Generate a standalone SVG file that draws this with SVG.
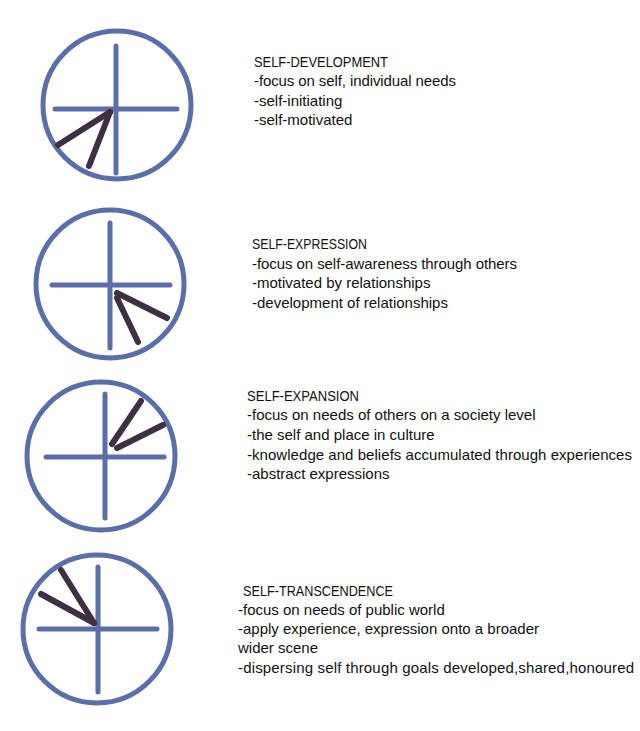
<svg xmlns="http://www.w3.org/2000/svg" width="640" height="731" viewBox="0 0 640 731">
<style>
.ring{fill:none;stroke:#5a6fa9;stroke-width:5}
.axis{stroke:#5a6fa9;stroke-width:5;stroke-linecap:round}
.hand{stroke:#3e3043;stroke-width:6;stroke-linecap:round}
text{font-family:"Liberation Sans",Arial,sans-serif;font-size:15px;fill:#111111}
</style>
<rect width="640" height="731" fill="#ffffff"/>
<g id="node-self-development">
<circle class="ring" cx="117" cy="105" r="74"/>
<line class="axis" x1="116" y1="46" x2="116" y2="173"/>
<line class="axis" x1="55" y1="109" x2="177" y2="109"/>
<line class="hand" x1="110" y1="112" x2="58" y2="145"/>
<line class="hand" x1="110" y1="112" x2="89" y2="166"/>
<text x="254" y="67" textLength="134" lengthAdjust="spacingAndGlyphs">SELF-DEVELOPMENT</text>
<text x="254" y="86" textLength="202" lengthAdjust="spacing">-focus on self, individual needs</text>
<text x="254" y="106">-self-initiating</text>
<text x="254" y="125">-self-motivated</text>
</g>
<g id="node-self-expression">
<circle class="ring" cx="110" cy="284" r="74"/>
<line class="axis" x1="110" y1="223" x2="110" y2="348"/>
<line class="axis" x1="52" y1="285" x2="170" y2="285"/>
<line class="hand" x1="117" y1="293" x2="167" y2="318"/>
<line class="hand" x1="117" y1="298" x2="138" y2="342"/>
<text x="252" y="249" textLength="115" lengthAdjust="spacingAndGlyphs">SELF-EXPRESSION</text>
<text x="252" y="269" textLength="265" lengthAdjust="spacing">-focus on self-awareness through others</text>
<text x="252" y="288">-motivated by relationships</text>
<text x="252" y="308">-development of relationships</text>
</g>
<g id="node-self-expansion">
<circle class="ring" cx="101" cy="456" r="74"/>
<line class="axis" x1="105" y1="394" x2="105" y2="518"/>
<line class="axis" x1="46" y1="457" x2="164" y2="457"/>
<line class="hand" x1="112" y1="444" x2="141" y2="401"/>
<line class="hand" x1="117" y1="448" x2="163" y2="425"/>
<text x="247" y="401" textLength="112" lengthAdjust="spacingAndGlyphs">SELF-EXPANSION</text>
<text x="247" y="420">-focus on needs of others on a society level</text>
<text x="247" y="440">-the self and place in culture</text>
<text x="247" y="460" textLength="385" lengthAdjust="spacing">-knowledge and beliefs accumulated through experiences</text>
<text x="247" y="479">-abstract expressions</text>
</g>
<g id="node-self-transcendence">
<circle class="ring" cx="97" cy="629" r="74"/>
<line class="axis" x1="98" y1="567" x2="98" y2="692"/>
<line class="axis" x1="39" y1="629" x2="157" y2="629"/>
<line class="hand" x1="94" y1="623" x2="61" y2="570"/>
<line class="hand" x1="94" y1="623" x2="41" y2="594"/>
<text x="243" y="596" textLength="150" lengthAdjust="spacingAndGlyphs">SELF-TRANSCENDENCE</text>
<text x="238" y="615">-focus on needs of public world</text>
<text x="238" y="634">-apply experience, expression onto a broader</text>
<text x="238" y="653">wider scene</text>
<text x="238" y="673" textLength="396" lengthAdjust="spacing">-dispersing self through goals developed,shared,honoured</text>
</g>
<g id="connectors"></g>
</svg>
